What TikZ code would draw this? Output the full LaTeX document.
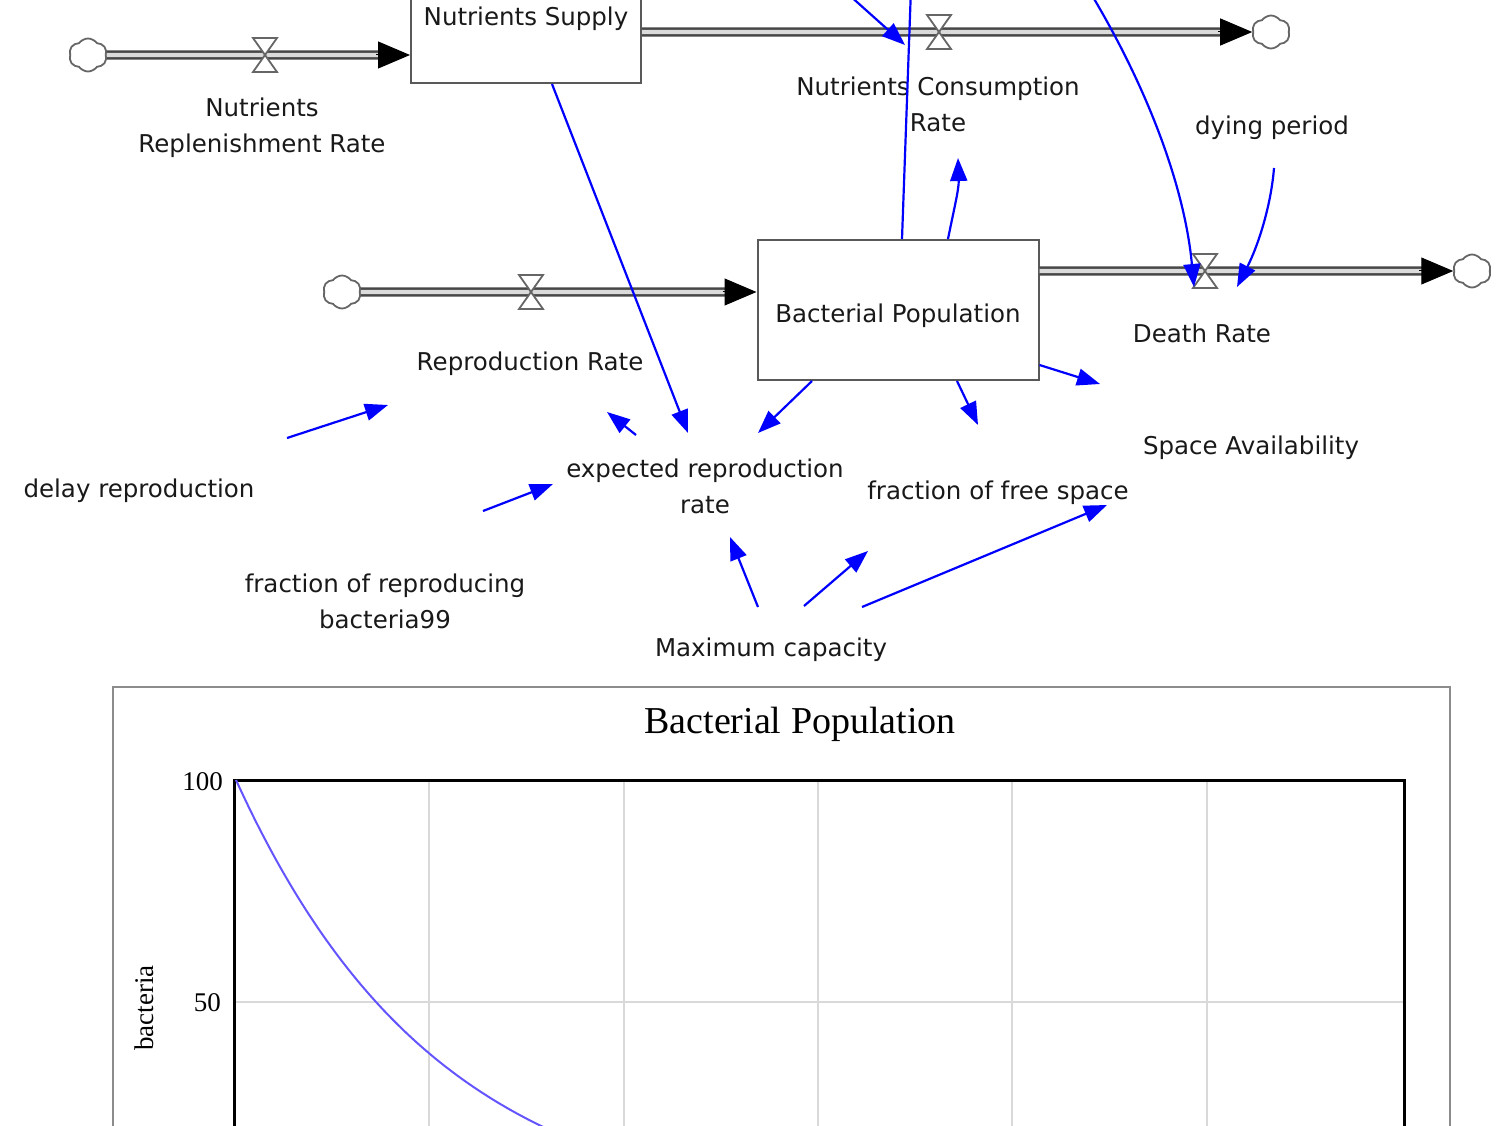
\documentclass[tikz,border=0pt]{standalone}
\usepackage{fontspec}
\setmainfont{DejaVu Sans}
\newfontfamily\chartfont{Liberation Serif}
\usetikzlibrary{arrows.meta,calc,shapes.symbols}

\begin{document}
\begin{tikzpicture}[x=1pt,y=-1pt,
  txt/.style={font=\fontsize{24.5}{36}\selectfont, align=center, inner sep=0pt, text=black!90},
  stock/.style={txt, draw=black!65, line width=2pt, fill=white, minimum height=140pt, text height=31pt, text depth=6pt},
  pipe/.style={draw=black!72, line width=2.6pt, double=black!14, double distance=4.2pt},
  pipetip/.style={-{Triangle[length=32pt,width=27pt]}, black, line width=1pt},
  link/.style={blue, line width=2.2pt, -{Triangle[length=23pt,width=17pt]}},
  linkplain/.style={blue, line width=2.2pt},
  cloudy/.style={cloud, cloud puffs=6, cloud puff arc=110, aspect=1.15, draw=black!60, line width=1.8pt, fill=white, minimum width=38pt, minimum height=33pt, inner sep=0pt},
  valve/.pic={\draw[black!60, line width=1.8pt, fill=white] (-12,-17) -- (12,-17) -- (0,0) -- (12,17) -- (-12,17) -- (0,0) -- cycle;},
  chartlbl/.style={font=\chartfont\fontsize{27}{30}\selectfont, inner sep=0pt},
  gridline/.style={black!15, line width=1.5pt}
]
\useasboundingbox (0,0) rectangle (1500,1126);
\clip (0,0) rectangle (1500,1126);
\fill[white] (0,0) rectangle (1500,1126);

% stocks
\node[stock, minimum width=230pt] (ns) at (526,13) {Nutrients Supply};
\node[stock, minimum width=281pt] (bp) at (898,310) {Bacterial Population};

% clouds
\node[cloudy] (c1) at (88,55) {};
\node[cloudy] (c2) at (1271,32) {};
\node[cloudy] (c3) at (342,292) {};
\node[cloudy] (c4) at (1472,271) {};

% pipe end points
\coordinate (p1end) at (ns.west |- c1);
\coordinate (p2start) at (ns.east |- c2);
\coordinate (p3end) at (bp.west |- c3);
\coordinate (p4start) at (bp.east |- c4);

% pipes
\draw[pipe] (c1.east) -- ($(p1end)+(-28,0)$);
\draw[pipetip] ($(p1end)+(-34,0)$) -- (p1end);
\draw[pipe] (p2start) -- ($(c2.west)+(-28,0)$);
\draw[pipetip] ($(c2.west)+(-34,0)$) -- (c2.west);
\draw[pipe] (c3.east) -- ($(p3end)+(-28,0)$);
\draw[pipetip] ($(p3end)+(-34,0)$) -- (p3end);
\draw[pipe] (p4start) -- ($(c4.west)+(-28,0)$);
\draw[pipetip] ($(c4.west)+(-34,0)$) -- (c4.west);

% valves
\coordinate (v1) at (265,55);
\coordinate (v2) at (939,32);
\coordinate (v3) at (531,292);
\coordinate (v4) at (1205,271);
\path (v1) pic {valve};
\path (v2) pic {valve};
\path (v3) pic {valve};
\path (v4) pic {valve};

% labels
\node[txt] (nrr) at (262,128) {Nutrients\\Replenishment Rate};
\node[txt] (ncr) at (938,104) {Nutrients Consumption\\Rate};
\node[txt] (rr) at (530,364) {Reproduction Rate};
\node[txt] (dr) at (1202,333) {Death Rate};
\node[txt] (dp) at (1272,128) {dying period};
\node[txt] (sa) at (1251,448) {Space Availability};
\node[txt] (delay) at (139,491) {delay reproduction};
\node[txt] (err) at (705,486) {expected reproduction\\rate};
\node[txt] (ffs) at (998,493) {fraction of free space};
\node[txt] (frb) at (385,601) {fraction of reproducing\\bacteria99};
\node[txt] (mc) at (771,650) {Maximum capacity};

% connectors
\draw[link] ($(ns.south)+(26,0)$) -- ($(err)+(-17,-53)$);
\draw[link] ($(bp.south)+(-86,0)$) -- ($(err)+(53,-53)$);
\draw[link] ($(err)+(-69,-51)$) -- ($(rr)+(77,48)$);
\draw[link] ($(delay)+(148,-53)$) -- ($(rr)+(-142,41)$);
\draw[link] ($(frb)+(98,-90)$) -- ($(err)+(-152,-2)$);
\draw[link] ($(mc)+(-13,-43)$) -- ($(err)+(25,51)$);
\draw[link] ($(mc)+(33,-44)$) -- ($(ffs)+(-130,58)$);
\draw[link] ($(mc)+(91,-43)$) -- ($(sa)+(-144,57)$);
\draw[link] ($(bp.south)+(59,0)$) -- ($(ffs)+(-20,-68)$);
\draw[link] ($(bp.east)+(0,55)$) -- ($(sa)+(-151,-64)$);
\draw[link] ($(bp.north)+(50,0)$) .. controls ($(bp.north)+(56,-30)$) and ($(bp.north)+(61,-50)$) .. ($(ncr)+(20,54)$);

\coordinate (topA) at (912,-40);
\coordinate (topB) at (810,-40);
\coordinate (topC) at (1090,-8);
\draw[linkplain] ($(bp.north)+(4,0)$) -- (topA);
\draw[link] (topB) -- ($(ncr)+(-33,-59)$);
\draw[link] (topC) .. controls ($(topC)+(60,100)$) and ($(topC)+(95,198)$) .. ($(dr)+(-8,-46)$);
\draw[link] ($(dp)+(2,40)$) .. controls ($(dp)+(-1,78)$) and ($(dp)+(-14,118)$) .. ($(dr)+(35,-46)$);

% chart
\draw[black!45, line width=2.5pt, fill=white] (113,687) rectangle (1450,1160);
\node[font=\chartfont\fontsize{38}{40}\selectfont, inner sep=0pt] (title) at (800,724) {Bacterial Population};
\foreach \gx in {429,624,818,1012,1207} \draw[gridline] (\gx,780) -- (\gx,1160);
\draw[gridline] (234,1002) -- (1404,1002);
\draw[black, line width=3pt] (234,780) rectangle (1404,1160);
\node[chartlbl, anchor=east] (t100) at (223,782) {100};
\node[chartlbl, anchor=east] (t50) at (221,1003) {50};
\node[chartlbl, rotate=90] (ylab) at (144,1008) {bacteria};
\draw[color={rgb,255:red,100;green,85;blue,255}, line width=2pt] plot[domain=236:560, samples=80, smooth] (\x, {1002 - (100*exp(-(\x-236)*0.6931/140) - 50)*4.44});
\end{tikzpicture}
\end{document}
